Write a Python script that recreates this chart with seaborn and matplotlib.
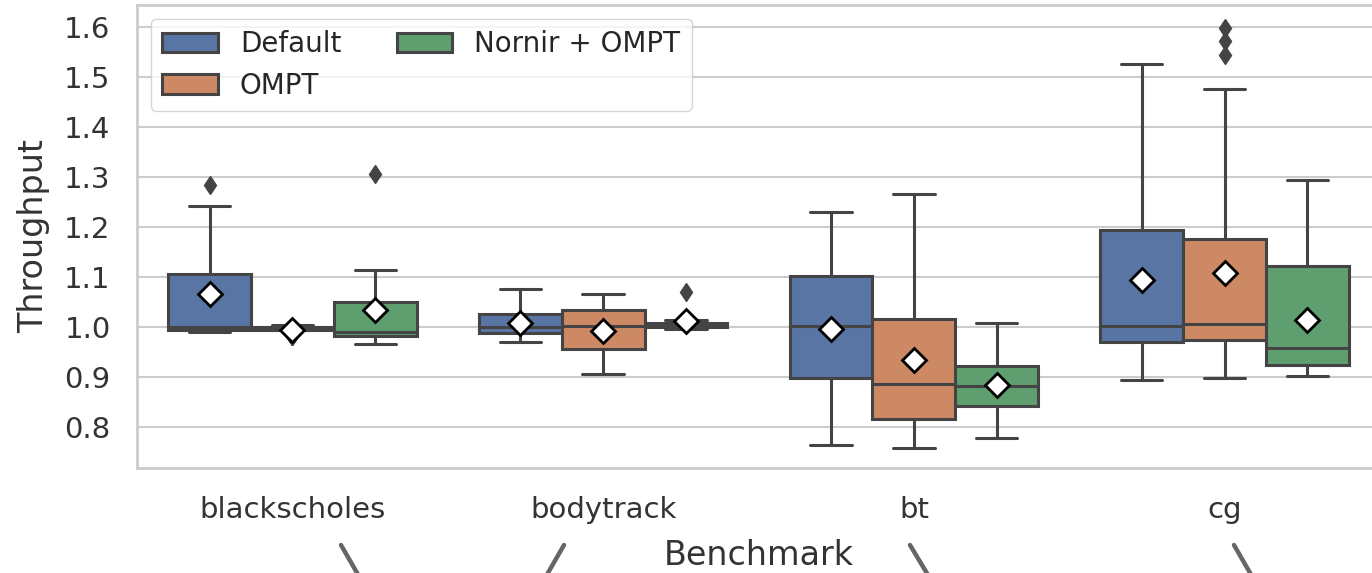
import pandas as pd
import seaborn as sns
import matplotlib.pyplot as plt
from matplotlib.lines import Line2D
from matplotlib.ticker import FormatStrFormatter

# Benchmarks (x categories) and runtime configurations (hue levels)
benchmarks = ["blackscholes", "bodytrack", "bt", "cg"]
configs = ["Default", "OMPT", "Nornir + OMPT"]

# Measured throughput samples per benchmark / configuration
blackscholes_default = [0.990, 0.991, 0.993, 0.995, 1.000, 1.001, 1.107, 1.242, 1.284]
blackscholes_ompt = [0.981, 0.981, 0.982, 0.982, 0.993, 0.994, 0.995, 0.996, 0.997,
                     0.998, 0.999, 0.999, 1.000, 1.001, 1.002, 1.003, 1.004]
blackscholes_nornir = [0.966, 0.972, 0.978, 0.981, 0.984, 0.987, 0.990, 1.020, 1.032,
                       1.051, 1.060, 1.114, 1.307]

bodytrack_default = [0.969, 0.980, 0.988, 0.995, 1.000, 1.012, 1.026, 1.034, 1.077]
bodytrack_ompt = [0.905, 0.935, 0.956, 0.985, 1.002, 1.015, 1.034, 1.039, 1.066]
bodytrack_nornir = [0.995, 0.999, 0.999, 1.005, 1.005, 1.009, 1.009, 1.014, 1.071]

bt_default = [0.764, 0.830, 0.897, 0.950, 1.002, 1.050, 1.102, 1.131, 1.229]
bt_ompt = [0.757, 0.790, 0.817, 0.850, 0.886, 0.950, 1.017, 1.064, 1.266]
bt_nornir = [0.777, 0.810, 0.841, 0.862, 0.882, 0.900, 0.921, 0.954, 1.009]

cg_default = [0.894, 0.930, 0.969, 0.985, 1.002, 1.100, 1.194, 1.255, 1.526]
cg_ompt = [0.897, 0.900, 0.910, 0.920, 0.940, 0.974, 0.980, 0.990, 0.995, 1.000,
           1.006, 1.010, 1.015, 1.025, 1.040, 1.176, 1.279, 1.476, 1.545, 1.572, 1.597]
cg_nornir = [0.901, 0.910, 0.924, 0.940, 0.957, 0.960, 1.122, 1.127, 1.294]

samples = {
    ("blackscholes", "Default"): blackscholes_default,
    ("blackscholes", "OMPT"): blackscholes_ompt,
    ("blackscholes", "Nornir + OMPT"): blackscholes_nornir,
    ("bodytrack", "Default"): bodytrack_default,
    ("bodytrack", "OMPT"): bodytrack_ompt,
    ("bodytrack", "Nornir + OMPT"): bodytrack_nornir,
    ("bt", "Default"): bt_default,
    ("bt", "OMPT"): bt_ompt,
    ("bt", "Nornir + OMPT"): bt_nornir,
    ("cg", "Default"): cg_default,
    ("cg", "OMPT"): cg_ompt,
    ("cg", "Nornir + OMPT"): cg_nornir,
}

rows = []
for (bench, cfg), values in samples.items():
    for v in values:
        rows.append({"Benchmark": bench, "Config": cfg, "Throughput": v})
df = pd.DataFrame(rows)

sns.set_theme(style="whitegrid", palette="deep")
plt.rcParams["font.family"] = ["DejaVu Sans"]
plt.rcParams["grid.linewidth"] = 1.5
plt.rcParams["axes.linewidth"] = 2.0

W, H = 1372, 573
fig = plt.figure(figsize=(W / 100, H / 100), dpi=100)
ax = fig.add_axes([137 / W, 1 - 468 / H, (1380 - 137) / W, (468 - 5) / H])

line_gray = "#444444"
sns.boxplot(
    data=df, x="Benchmark", y="Throughput", hue="Config",
    order=benchmarks, hue_order=configs, palette="deep", ax=ax,
    linewidth=2.2, linecolor=line_gray, fliersize=9.5,
    flierprops=dict(marker="d", markerfacecolor=line_gray,
                    markeredgecolor=line_gray),
    showmeans=True,
    meanprops=dict(marker="D", markerfacecolor="white",
                   markeredgecolor="black", markersize=12.5,
                   markeredgewidth=2),
)

ax.set_ylim(0.718, 1.644)
ax.set_yticks([0.8, 0.9, 1.0, 1.1, 1.2, 1.3, 1.4, 1.5, 1.6])
ax.yaxis.set_major_formatter(FormatStrFormatter("%.1f"))
ax.tick_params(axis="both", length=0)
ax.tick_params(axis="y", labelsize=21, pad=19, colors="#333333")
ax.tick_params(axis="x", labelsize=21, pad=20, colors="#333333")
ax.set_xlabel("Benchmark", fontsize=24, labelpad=11, color="#333333")
ax.set_ylabel("Throughput", fontsize=24, labelpad=10, color="#333333")

sns.move_legend(ax, "upper left", ncol=2, title=None, fontsize=20,
                frameon=True, borderaxespad=0.5)

# Connector strokes running off the lower edge of the figure
for (x0, y0), (x1, y1) in [((341, 545), (364, 585)), ((564, 545), (541, 585)),
                           ((910, 545), (934, 585)), ((1234, 545), (1257, 585))]:
    fig.add_artist(Line2D([x0 / W, x1 / W], [1 - y0 / H, 1 - y1 / H],
                          color="#666666", lw=3.2, transform=fig.transFigure))

fig.savefig("out.png", dpi=100)
